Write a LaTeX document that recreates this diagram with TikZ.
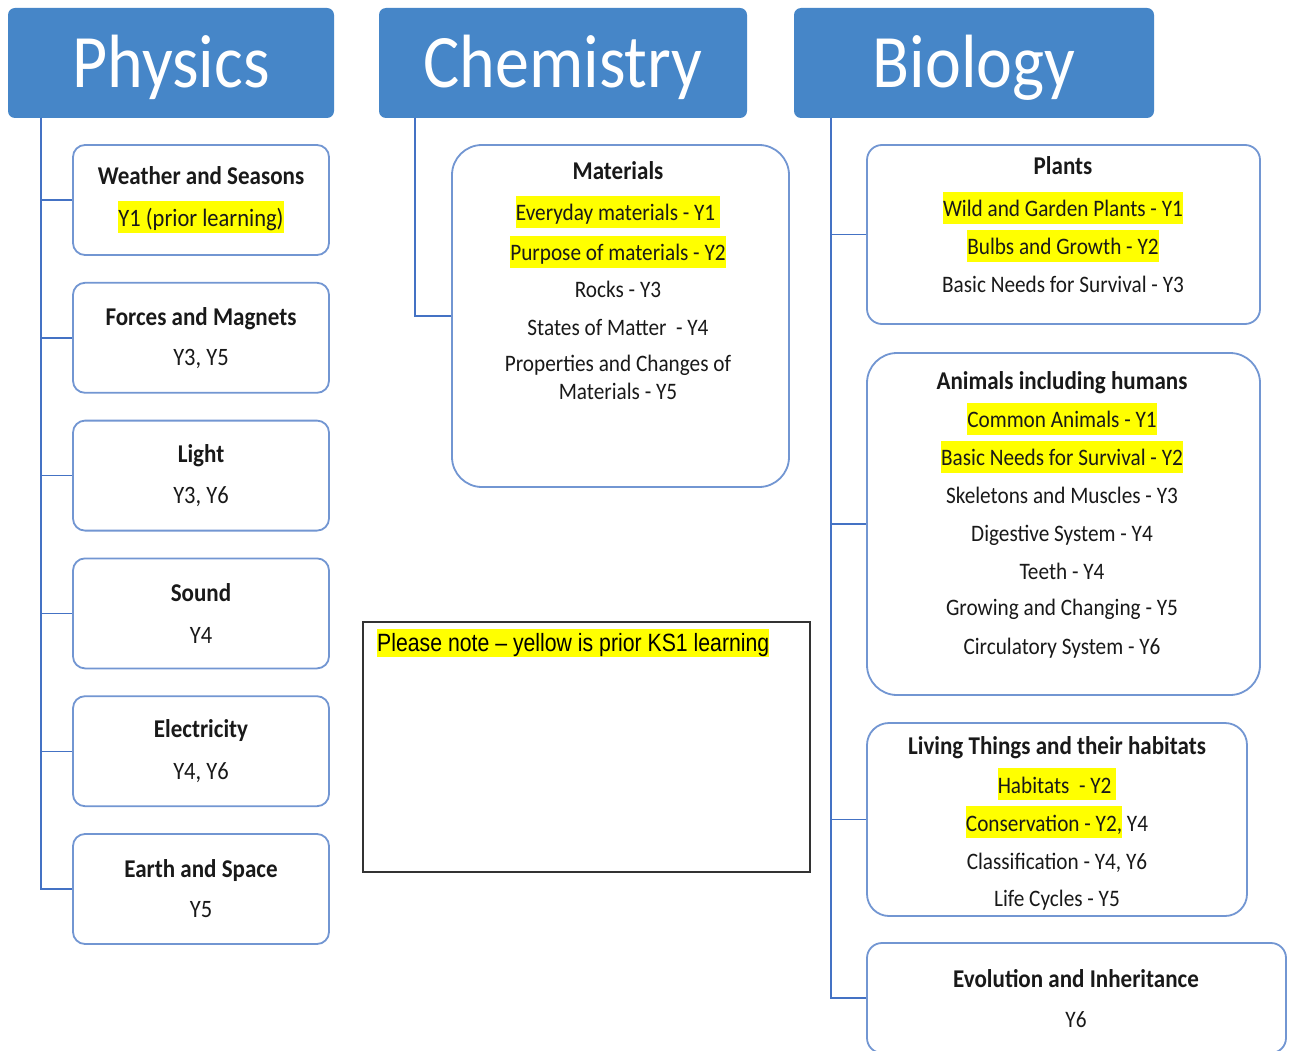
\documentclass[tikz,border=0pt]{standalone}
\usepackage{fontspec}
\setmainfont[FakeStretch=0.9]{Carlito}
\newfontfamily\notefont[FakeStretch=0.85]{Liberation Sans}
\usetikzlibrary{positioning}

\definecolor{headblue}{RGB}{70,134,200}
\definecolor{boxline}{RGB}{114,150,210}
\definecolor{treeline}{RGB}{68,114,196}
\definecolor{hilite}{RGB}{255,255,0}

\newcommand{\priorks}[1]{{\setlength{\fboxsep}{0pt}\colorbox{hilite}{\rule[-7pt]{0pt}{32pt}#1}}}
\newcommand{\topichead}[1]{{\fontsize{25.6}{38}\selectfont\bfseries #1}}

\begin{document}
\begin{tikzpicture}[x=1pt, y=-1pt,
        subject/.style={rectangle, fill=headblue, draw=none, rounded corners=7pt, text=white, font=\fontsize{75.5}{80}\selectfont, minimum height=110pt, inner sep=0pt, text height=60pt, text depth=10pt},
        topic/.style={rectangle, draw=boxline, line width=1.8pt, fill=white, rounded corners=12pt, inner sep=0pt, align=center, text=black!90, font=\fontsize{25}{38}\selectfont},
        list/.style={inner sep=0pt, align=center, text=black!90, font=\fontsize{23.6}{38}\selectfont},
        notetext/.style={fill=hilite, inner xsep=0pt, inner ysep=1pt, text height=21pt, text depth=5pt, font=\notefont\fontsize{25}{30}\selectfont},
        branch/.style={draw=treeline, line width=1.4pt}
    ]
        \clip (0,0) rectangle (1293,1051);
        \fill[white] (0,0) rectangle (1293,1051);

        % subject headers
        \node[subject, minimum width=326pt] (phys) at (171,63) {Physics};
        \node[subject, minimum width=368pt] (chem) at (563,63) {Chemistry};
        \node[subject, minimum width=360pt] (bio) at (974,63) {Biology};
        \coordinate (physroot) at (41,118);
        \coordinate (chemroot) at (415,118);
        \coordinate (bioroot) at (831,118);

        % physics topics
        \node[topic, minimum width=256pt, minimum height=110pt] (weather) at (201,200) {\topichead{Weather and Seasons}\\[4pt]\priorks{Y1 (prior learning)}};
        \node[topic, minimum width=256pt, minimum height=110pt, below=26pt of weather] (forces) {\topichead{Forces and Magnets}\\[2pt]Y3, Y5};
        \node[topic, minimum width=256pt, minimum height=110pt, below=26pt of forces] (light) {\topichead{Light}\\[3pt]Y3, Y6};
        \node[topic, minimum width=256pt, minimum height=110pt, below=26pt of light] (sound) {\topichead{Sound}\\[4pt]Y4};
        \node[topic, minimum width=256pt, minimum height=110pt, below=26pt of sound] (elec) {\topichead{Electricity}\\[4pt]Y4, Y6};
        \node[topic, minimum width=256pt, minimum height=110pt, below=26pt of elec] (earth) {\topichead{Earth and Space}\\[2pt]Y5};
        \draw[branch] (physroot) |- (weather.west);
        \draw[branch] (physroot) |- (forces.west);
        \draw[branch] (physroot) |- (light.west);
        \draw[branch] (physroot) |- (sound.west);
        \draw[branch] (physroot) |- (elec.west);
        \draw[branch] (physroot) |- (earth.west);

        % chemistry topic
        \node[topic, rounded corners=30pt, minimum width=337pt, minimum height=342pt] (mat) at (620.5,316) {};
        \node[list] (matlist) at (618,281) {\topichead{Materials}\\[3pt]\priorks{Everyday materials - Y1\ }\\[2pt]\priorks{Purpose of materials - Y2}\\[-1pt]Rocks - Y3\\States of Matter\ \ - Y4\\[-2pt]Properties and Changes of\\[-10pt]Materials - Y5};
        \draw[branch] (chemroot) |- (mat.west);

        % note
        \node[draw=black!80, line width=1.5pt, minimum width=447pt, minimum height=250pt, inner sep=0pt] (note) at (586.5,747) {};
        \node[notetext, anchor=north west] (notelabel) at (377,629) {Please note – yellow is prior KS1 learning};

        % biology topics
        \node[topic, rounded corners=15pt, minimum width=393pt, minimum height=179pt] (plants) at (1063.5,234.5) {};
        \node[list] (plantlist) at (1063,225) {\topichead{Plants}\\[4pt]\priorks{Wild and Garden Plants - Y1}\\\priorks{Bulbs and Growth - Y2}\\Basic Needs for Survival - Y3};
        \node[topic, rounded corners=30pt, minimum width=393pt, minimum height=342pt] (animals) at (1063.5,524) {};
        \node[list] (animallist) at (1062,515) {\topichead{Animals including humans}\\\priorks{Common Animals - Y1}\\\priorks{Basic Needs for Survival - Y2}\\Skeletons and Muscles - Y3\\Digestive System - Y4\\Teeth - Y4\\[-2pt]Growing and Changing - Y5\\[1pt]Circulatory System - Y6};
        \node[topic, rounded corners=22pt, minimum width=380pt, minimum height=193pt] (living) at (1057,819.5) {};
        \node[list] (livinglist) at (1057,823) {\topichead{Living Things and their habitats}\\[1pt]\priorks{Habitats\ \ - Y2\ }\\\priorks{Conservation - Y2,} Y4\\Classification - Y4, Y6\\[-1pt]Life Cycles - Y5};
        \node[topic, rounded corners=15pt, minimum width=419pt, minimum height=110pt] (evol) at (1076.5,998) {};
        \node[list] (evollist) at (1076,999) {\topichead{Evolution and Inheritance}\\[2pt]Y6};
        \draw[branch] (bioroot) |- (plants.west);
        \draw[branch] (bioroot) |- (animals.west);
        \draw[branch] (bioroot) |- (living.west);
        \draw[branch] (bioroot) |- (evol.west);
    \end{tikzpicture}
\end{document}
